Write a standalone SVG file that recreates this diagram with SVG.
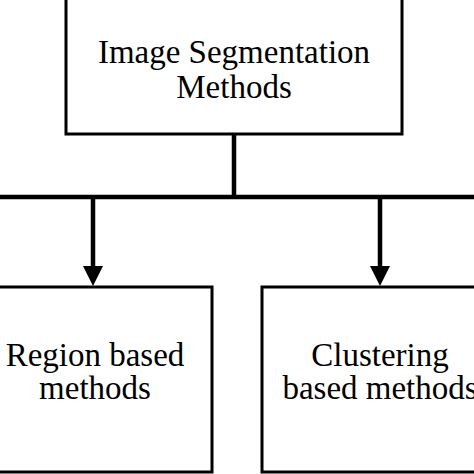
<svg xmlns="http://www.w3.org/2000/svg" width="474" height="474" viewBox="0 0 474 474">
<style>
.box{fill:#fff;stroke:#000;stroke-width:3}
.t{font-family:"Liberation Serif","Times New Roman",serif;font-size:33px;fill:#000;text-anchor:middle}
.c{stroke:#000;stroke-width:4.5;fill:none}
</style>
<rect width="474" height="474" fill="#fff"/>
<g id="top">
<rect class="box" x="66" y="-2" width="336" height="136"/>
<text class="t" x="234" y="63">Image Segmentation</text>
<text class="t" x="234" y="98">Methods</text>
</g>
<g id="region">
<rect class="box" x="-22" y="287" width="234" height="185"/>
<text class="t" x="95" y="366">Region based</text>
<text class="t" x="95" y="399">methods</text>
</g>
<g id="clustering">
<rect class="box" x="262" y="287" width="236" height="185"/>
<text class="t" x="380" y="366">Clustering</text>
<text class="t" x="380" y="399">based methods</text>
</g>
<g id="connectors">
<line class="c" x1="234" y1="134" x2="234" y2="197"/>
<line class="c" x1="0" y1="197" x2="474" y2="197"/>
<line class="c" x1="93" y1="197" x2="93" y2="268"/>
<line class="c" x1="380" y1="197" x2="380" y2="268"/>
<polygon points="83,266 103,266 93,286" fill="#000"/>
<polygon points="370,266 390,266 380,286" fill="#000"/>
</g>
</svg>
